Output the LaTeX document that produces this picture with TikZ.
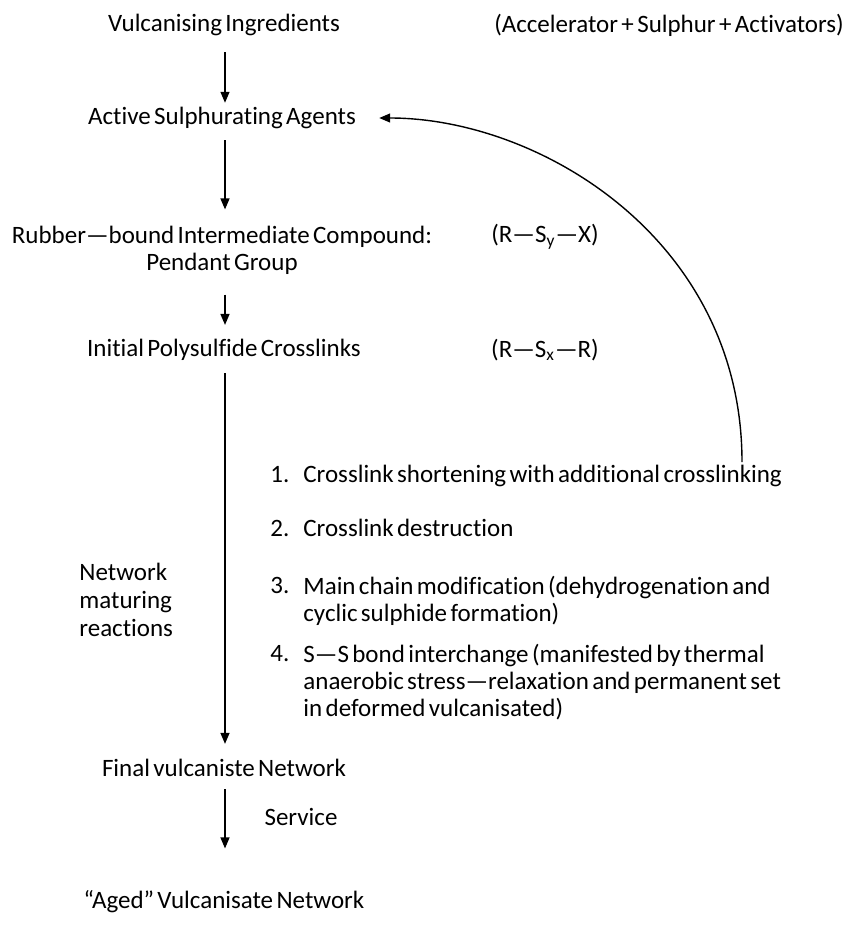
\documentclass[tikz,border=0pt]{standalone}
\usepackage{fontspec}
\setmainfont[WordSpace=0.6, Ligatures=NoCommon, RawFeature={-liga;-dlig;-clig}]{Carlito}
\usetikzlibrary{arrows.meta}
\begin{document}
\begin{tikzpicture}[x=0.5pt,y=-0.5pt,
  every node/.style={font=\fontsize{12.5}{13.5}\selectfont, inner sep=0pt},
  arr/.style={line width=0.7pt,-{Triangle[length=5.5pt,width=4.5pt]}},
  item/.style={anchor=north west, align=left}]
\useasboundingbox (0,0) rectangle (848,936);
% main column
\node (vi)  at (224,25)  {Vulcanising Ingredients};
\node (acc) at (669,25)  {(Accelerator + Sulphur + Activators)};
\node (asa) at (222,118) {Active Sulphurating Agents};
\node[align=center] (rb) at (222,250) {Rubber—bound Intermediate Compound:\\Pendant Group};
\node (rsy) at (545,237) {(R—S\textsubscript{y}—X)};
\node (ipc) at (224,350) {Initial Polysulfide Crosslinks};
\node (rsx) at (545,350) {(R—S\textsubscript{x}—R)};
\node (fvn) at (224,768) {Final vulcaniste Network};
\node (svc) at (301,817) {Service};
\node (avn) at (224,902) {“Aged” Vulcanisate Network};
\node[align=left, anchor=west, font=\fontsize{12.5}{14}\selectfont] (nmr) at (79,600) {Network\\maturing\\reactions};
% items
\node[item] (n1) at (270,465) {\vphantom{l}1.};
\node[item] (i1) at (303,465) {Crosslink shortening with additional crosslinking};
\node[item] (n2) at (270,519) {\vphantom{l}2.};
\node[item] (i2) at (303,519) {Crosslink destruction};
\node[item] (n3) at (270,576) {\vphantom{l}3.};
\node[item] (i3) at (303,576) {Main chain modification (dehydrogenation and\\cyclic sulphide formation)};
\node[item] (n4) at (270,644) {\vphantom{l}4.};
\node[item] (i4) at (303,644) {S—S bond interchange (manifested by thermal\\anaerobic stress—relaxation and permanent set\\in deformed vulcanisated)};
% arrows
\coordinate (ax) at (225,0);
\draw[arr] (vi.south -| ax) ++(0,16) -- ([yshift=2pt]asa.north -| ax);
\draw[arr] (asa.south -| ax) ++(0,11) -- ([yshift=8pt]rb.north -| ax);
\draw[arr] (rb.south -| ax) ++(0,20) -- ([yshift=7pt]ipc.north -| ax);
\draw[arr] (ipc.south -| ax) ++(0,12) -- ([yshift=7.5pt]fvn.north -| ax);
\draw[arr] (fvn.south -| ax) ++(0,12) -- ([yshift=21pt]avn.north -| ax);
\coordinate (c0) at (742,462);
\draw[arr] (c0) .. controls (742,240) and (540,118) .. ([xshift=11.5pt]asa.east);
\end{tikzpicture}
\end{document}
